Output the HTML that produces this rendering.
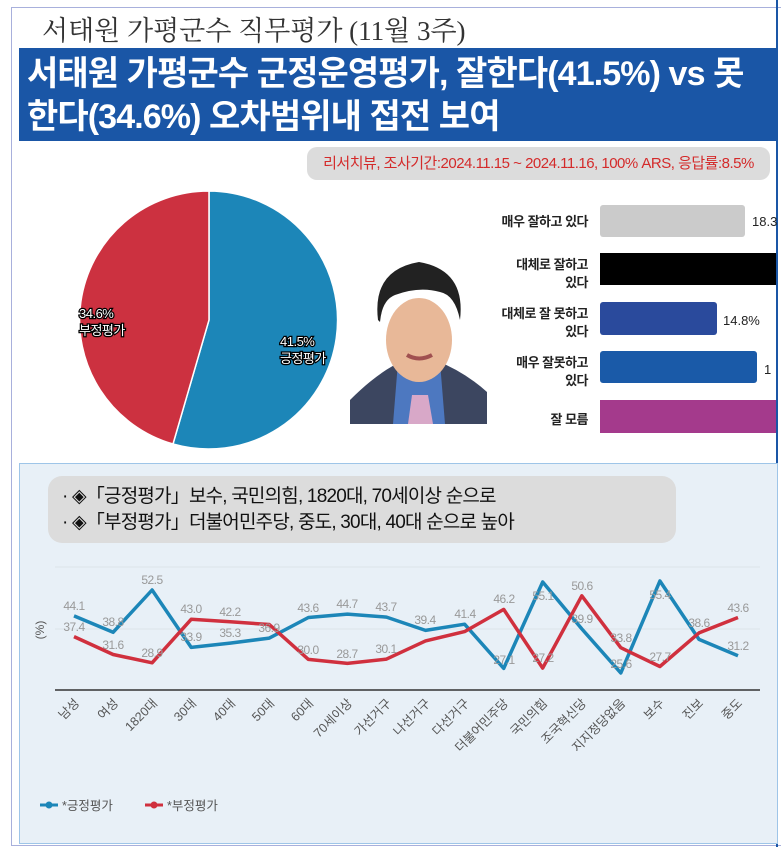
<!DOCTYPE html>
<html><head><meta charset="utf-8"><style>
body{margin:0;width:781px;height:847px;background:#fff;overflow:hidden;font-family:"Liberation Sans","Noto Sans CJK KR",sans-serif;position:relative}
.abs{position:absolute}
</style></head><body>
<div class="abs" style="left:11px;top:7px;width:770px;height:837px;border-left:1px solid #a8b0dc;border-top:1px solid #a8b0dc;border-bottom:1px solid #a8b0dc"></div>
<div class="abs" style="left:776px;top:0;width:2px;height:847px;background:#1a56a6"></div>
<div class="abs" style="left:42px;top:9px;font-family:'Liberation Serif','Noto Serif CJK SC',serif;font-size:27px;color:#333">서태원 가평군수 직무평가 (11월 3주)</div>
<div class="abs" style="left:19px;top:48px;width:759px;height:93px;background:#1a56a6"></div>
<div class="abs" style="left:27px;top:53px;width:750px;color:#fff;font-weight:bold;font-size:34px;line-height:43px;letter-spacing:-0.9px;white-space:nowrap">서태원 가평군수 군정운영평가, 잘한다(41.5%) vs 못<br>한다(34.6%) 오차범위내 접전 보여</div>
<div class="abs" style="left:307px;top:147px;width:463px;height:33px;background:#dcdcdc;border-radius:10px;color:#d42a2a;font-size:15px;line-height:33px;text-align:center;letter-spacing:-0.5px">리서치뷰, 조사기간:2024.11.15 ~ 2024.11.16, 100% ARS, 응답률:8.5%</div>

<svg class="abs" style="left:0;top:0" width="781" height="463">
<path d="M209,320 L209,191 A129,129 0 1 1 173,444 Z" fill="#1c86b8" stroke="#fff" stroke-width="1.5"/>
<path d="M209,320 L173,444 A129,129 0 0 1 209,191 Z" fill="#cc3140" stroke="#fff" stroke-width="1.5"/>
<g font-size="13" fill="#fff" stroke="#000" stroke-width="2.5" paint-order="stroke" letter-spacing="-0.5">
<text x="79" y="318">34.6%</text><text x="79" y="335">부정평가</text>
<text x="280" y="346">41.5%</text><text x="280" y="363">긍정평가</text>
</g>
<rect x="350" y="255" width="137" height="170" fill="#fff"/>
<path d="M350,400 Q380,370 405,360 L435,360 Q465,372 487,392 L487,424 L350,424Z" fill="#3c4660"/>
<path d="M398,362 L440,362 L445,424 L393,424Z" fill="#4d78c0"/>
<path d="M412,395 L428,395 L433,424 L408,424Z" fill="#d8a8c8"/>
<ellipse cx="419" cy="340" rx="33" ry="42" fill="#e8b898"/>
<path d="M378,320 Q372,270 419,262 Q466,270 460,320 Q455,295 440,292 Q419,286 395,295 Q382,300 380,322Z" fill="#222"/>
<path d="M407,355 Q419,362 432,355" stroke="#a05050" stroke-width="4" fill="none"/>
<g font-size="13" fill="#222" text-anchor="end" font-weight="bold" letter-spacing="-0.5">
<text x="588" y="226">매우 잘하고 있다</text>
<text x="588" y="269">대체로 잘하고</text><text x="588" y="287">있다</text>
<text x="588" y="318">대체로 잘 못하고</text><text x="588" y="336">있다</text>
<text x="588" y="367">매우 잘못하고</text><text x="588" y="385">있다</text>
<text x="588" y="424">잘 모름</text>
</g>
<rect x="600" y="205" width="145" height="32" rx="3" fill="#cbcbcb"/>
<rect x="600" y="253" width="176" height="32" fill="#000"/>
<rect x="600" y="302" width="117" height="33" rx="3" fill="#2a4a9c"/>
<rect x="600" y="351" width="157" height="32" rx="3" fill="#1a5aa8"/>
<rect x="600" y="400" width="176" height="33" fill="#a43a8c"/>
<g font-size="13" fill="#222"><text x="752" y="226">18.3</text><text x="723" y="325">14.8%</text><text x="764" y="374">1</text></g>
</svg>

<div class="abs" style="left:19px;top:463px;width:757px;height:379px;background:#e8f0f7;border:1px solid #9ec5e8"></div>
<div class="abs" style="left:48px;top:476px;width:628px;height:67px;background:#dcdcdc;border-radius:14px"></div>
<div class="abs" style="left:62px;top:484px;font-size:19px;line-height:26px;color:#111;letter-spacing:-0.8px;white-space:nowrap">· ◈「긍정평가」보수, 국민의힘, 1820대, 70세이상 순으로<br>· ◈「부정평가」더불어민주당, 중도, 30대, 40대 순으로 높아</div>

<svg class="abs" style="left:0;top:0" width="781" height="847">
<line x1="55" y1="567" x2="760" y2="567" stroke="#dde3ea"/>
<line x1="55" y1="629" x2="760" y2="629" stroke="#dde3ea"/>
<line x1="55" y1="690" x2="760" y2="690" stroke="#333" stroke-width="1.5"/>
<text transform="translate(44,630) rotate(-90)" font-size="12" fill="#555" text-anchor="middle">(%)</text>
<polyline fill="none" stroke="#1c86b8" stroke-width="3.5" stroke-linejoin="round" points="74,615.9 113.1,632.3 152.1,590 191.2,647.4 230.2,643.1 269.3,638.1 308.4,617.5 347.4,614.1 386.5,617.1 425.5,630.4 464.6,624.2 503.7,668.4 542.7,582 581.8,628.9 620.8,673 659.9,581 699,639.4 738,655.7"/>
<polyline fill="none" stroke="#d0303e" stroke-width="3.5" stroke-linejoin="round" points="74,636.6 113.1,654.5 152.1,662.8 191.2,619.3 230.2,621.8 269.3,624.5 308.4,659.4 347.4,663.4 386.5,659.1 425.5,640.9 464.6,631.6 503.7,609.4 542.7,668.1 581.8,595.8 620.8,647.7 659.9,666.5 699,632.9 738,617.5"/>
<g font-size="12" fill="#999" text-anchor="middle" letter-spacing="-0.5">
<text x="74" y="610">44.1</text><text x="113" y="626">38.8</text><text x="152" y="584">52.5</text><text x="191" y="641">33.9</text><text x="230" y="637">35.3</text><text x="269" y="632">36.9</text><text x="308" y="612">43.6</text><text x="347" y="608">44.7</text><text x="386" y="611">43.7</text><text x="425" y="624">39.4</text><text x="465" y="618">41.4</text><text x="504" y="664">27.1</text><text x="543" y="600">55.1</text><text x="582" y="623">39.9</text><text x="621" y="668">25.6</text><text x="660" y="599">55.4</text><text x="738" y="650">31.2</text>
<text x="74" y="631">37.4</text><text x="113" y="649">31.6</text><text x="152" y="657">28.9</text><text x="191" y="613">43.0</text><text x="230" y="616">42.2</text><text x="308" y="654">30.0</text><text x="347" y="658">28.7</text><text x="386" y="653">30.1</text><text x="504" y="603">46.2</text><text x="543" y="662">27.2</text><text x="582" y="590">50.6</text><text x="621" y="642">33.8</text><text x="660" y="661">27.7</text><text x="699" y="627">38.6</text><text x="738" y="612">43.6</text>
</g>
<g font-size="12.5" fill="#555" text-anchor="end">
<text transform="translate(80,704) rotate(-45)">남성</text>
<text transform="translate(119,704) rotate(-45)">여성</text>
<text transform="translate(158,704) rotate(-45)">1820대</text>
<text transform="translate(197,704) rotate(-45)">30대</text>
<text transform="translate(236,704) rotate(-45)">40대</text>
<text transform="translate(275,704) rotate(-45)">50대</text>
<text transform="translate(314,704) rotate(-45)">60대</text>
<text transform="translate(353,704) rotate(-45)">70세이상</text>
<text transform="translate(392,704) rotate(-45)">가선거구</text>
<text transform="translate(431,704) rotate(-45)">나선거구</text>
<text transform="translate(470,704) rotate(-45)">다선거구</text>
<text transform="translate(509,704) rotate(-45)">더불어민주당</text>
<text transform="translate(548,704) rotate(-45)">국민의힘</text>
<text transform="translate(587,704) rotate(-45)">조국혁신당</text>
<text transform="translate(626,704) rotate(-45)">지지정당없음</text>
<text transform="translate(665,704) rotate(-45)">보수</text>
<text transform="translate(704,704) rotate(-45)">진보</text>
<text transform="translate(743,704) rotate(-45)">중도</text>
</g>
<line x1="40" y1="805" x2="58" y2="805" stroke="#1c86b8" stroke-width="3"/><circle cx="49" cy="805" r="3.5" fill="#1c86b8"/>
<text x="62" y="810" font-size="12.5" fill="#555">*긍정평가</text>
<line x1="145" y1="805" x2="163" y2="805" stroke="#d0303e" stroke-width="3"/><circle cx="154" cy="805" r="3.5" fill="#d0303e"/>
<text x="167" y="810" font-size="12.5" fill="#555">*부정평가</text>
</svg>
</body></html>
